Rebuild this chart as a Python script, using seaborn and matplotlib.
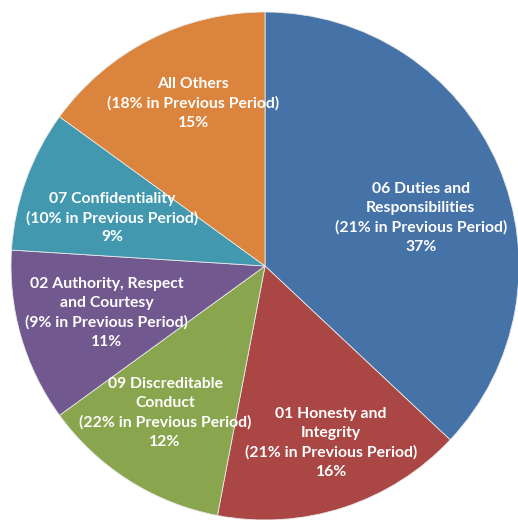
import matplotlib
matplotlib.use("Agg")
import matplotlib.pyplot as plt
import seaborn as sns
import numpy as np

sns.set_theme(style="white")
plt.rcParams['font.family'] = ['Lato', 'DejaVu Sans']

categories = ["06 Duties and\nResponsibilities", "01 Honesty and\nIntegrity",
              "09 Discreditable\nConduct", "02 Authority, Respect\nand Courtesy",
              "07 Confidentiality", "All Others"]
previous = [21, 21, 22, 9, 10, 18]
current = [37, 16, 12, 11, 9, 15]
colors = ["#4572A7", "#AA4643", "#89A54E", "#71588F", "#4198AF", "#DB843D"]

# label anchor (angle in degrees, radius fraction) for each wedge's text
label_pos = [(17.1, 0.642), (-69.5, 0.744), (-124.2, 0.70), (-163.5, 0.65),
             (162.6, 0.63), (113.8, 0.70)]

fig = plt.figure(figsize=(5.18, 5.20), dpi=100)
ax = fig.add_axes([0, 0, 1, 1])
wedges, _ = ax.pie(current, colors=colors, startangle=90, counterclock=False,
                   wedgeprops=dict(edgecolor="#e8e8e8", linewidth=0.6))
R = 254.0
ax.set_xlim(-265 / R, (518 - 265) / R)
ax.set_ylim(-(520 - 266) / R, 266 / R)
ax.set_aspect("auto")
ax.axis("off")

for cat, prev, cur, (ang, r) in zip(categories, previous, current, label_pos):
    x = r * np.cos(np.radians(ang))
    y = r * np.sin(np.radians(ang))
    txt = f"{cat}\n({prev}% in Previous Period)\n{cur}%"
    ax.text(x, y, txt, ha="center", va="center", color="white",
            fontsize=11.3, fontweight="bold", linespacing=1.45)

fig.savefig("out.png", dpi=100, facecolor="white")
